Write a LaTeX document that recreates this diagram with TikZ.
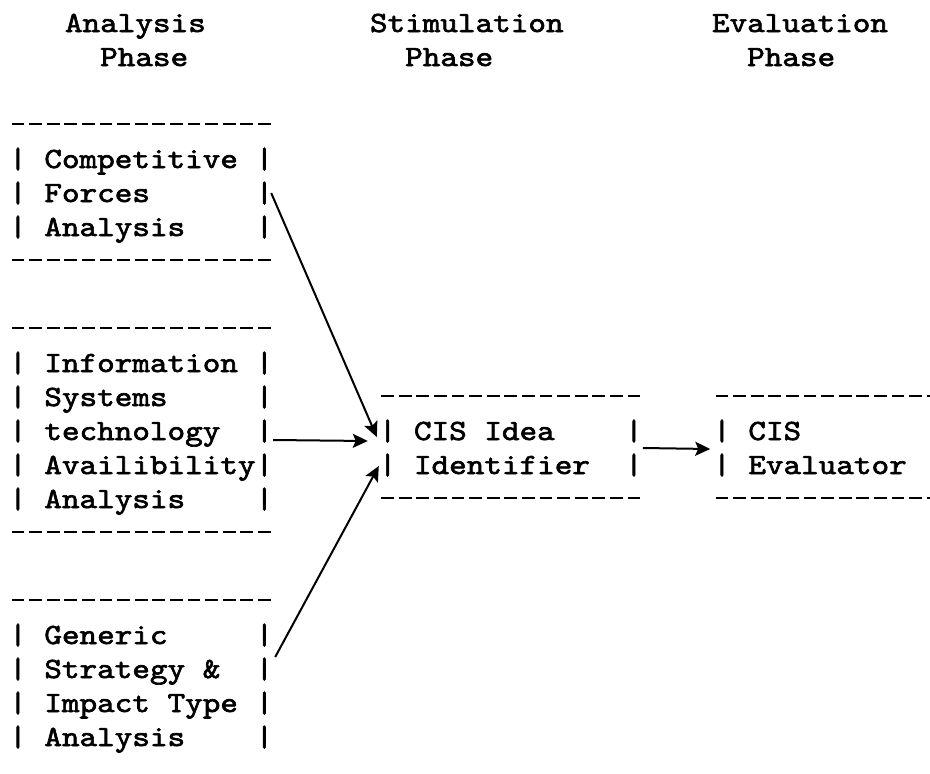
\documentclass[tikz,border=0pt]{standalone}
\usepackage{fontspec}
\newfontfamily\typer[FakeStretch=1.143,FakeBold=2.2]{lmmono10-regular.otf}
\usetikzlibrary{arrows.meta}
\newlength\cwd
\setlength\cwd{17.6pt}
% a boxed row: pipe, 13 character cells, pipe
\newcommand\brow[1]{|\makebox[13\cwd][l]{\hspace*{\cwd}#1}|}
% an open row (right side cut off)
\newcommand\orow[1]{|\hspace*{\cwd}#1}
\begin{document}
\begin{tikzpicture}[x=1pt,y=-1pt,
  txt/.style={font=\typer\fontsize{29.33pt}{34pt}\selectfont,
    inner sep=0pt, outer sep=0pt, anchor=base west, text height=20pt, text depth=6pt},
  border/.style={line width=2.4pt, dash pattern=on 12.8pt off 4.8pt},
  link/.style={line width=2pt, -{Stealth[length=15pt,width=14pt,inset=3pt]}}]
\useasboundingbox[fill=white] (0,0) rectangle (930,774);
% column c: left edge 9.2+17.6c ; row k: centre 22+34k, baseline +10
\newcommand\dashline[3]{\draw[border] ({9.2+17.6*#1+2.4},{22+34*#3}) -- ({9.2+17.6*(#2+1)-2.4},{22+34*#3});}
% headers
\node[txt] (h1a) at (65.0,32) {Analysis};
\node[txt] (h1b) at (100.2,66) {Phase};
\node[txt] (h2a) at (370.0,32) {Stimulation};
\node[txt] (h2b) at (405.2,66) {Phase};
\node[txt] (h3a) at (712.0,32) {Evaluation};
\node[txt] (h3b) at (747.2,66) {Phase};
% box 1 (rows 3-7)
\dashline{0}{14}{3}
\node[txt] (b1a) at (9.2,{22+34*4+10}) {\brow{Competitive}};
\node[txt] (b1b) at (9.2,{22+34*5+10}) {\brow{Forces}};
\node[txt] (b1c) at (9.2,{22+34*6+10}) {\brow{Analysis}};
\dashline{0}{14}{7}
% box 2 (rows 9-15)
\dashline{0}{14}{9}
\node[txt] (b2a) at (9.2,{22+34*10+10}) {\brow{Information}};
\node[txt] (b2b) at (9.2,{22+34*11+10}) {\brow{Systems}};
\node[txt] (b2c) at (9.2,{22+34*12+10}) {\brow{technology}};
\node[txt] (b2d) at (9.2,{22+34*13+10}) {\brow{Availibility}};
\node[txt] (b2e) at (9.2,{22+34*14+10}) {\brow{Analysis}};
\dashline{0}{14}{15}
% box 3 (rows 17-21)
\dashline{0}{14}{17}
\node[txt] (b3a) at (9.2,{22+34*18+10}) {\brow{Generic}};
\node[txt] (b3b) at (9.2,{22+34*19+10}) {\brow{Strategy \&}};
\node[txt] (b3c) at (9.2,{22+34*20+10}) {\brow{Impact Type}};
\node[txt] (b3d) at (9.2,{22+34*21+10}) {\brow{Analysis}};
% CIS idea identifier (cols 21-35, rows 11-14)
\dashline{21}{35}{11}
\node[txt] (c1) at (378.8,{22+34*12+10}) {\brow{CIS Idea}};
\node[txt] (c2) at (378.8,{22+34*13+10}) {\brow{Identifier}};
\dashline{21}{35}{14}
% CIS evaluator (cols 40-, rows 11-14), cut off at the right edge
\draw[border] (715.6,396) -- (930,396);
\node[txt] (e1) at (713.2,{22+34*12+10}) {\orow{CIS}};
\node[txt] (e2) at (713.2,{22+34*13+10}) {\orow{Evaluator}};
\draw[border] (715.6,498) -- (930,498);
% connectors
\draw[link] ([xshift=-2pt,yshift=2pt]b1b.east) -- ([xshift=-2pt,yshift=-4pt]c1.west);
\draw[link] ([yshift=-7pt]b2c.east) -- ([xshift=-11pt,yshift=-8pt]c1.west);
\draw[link] ([xshift=2pt,yshift=14pt]b3b.east) -- ([yshift=1pt]c2.west);
\draw[link] ([yshift=-15pt]c1.east) -- ([xshift=-3pt,yshift=-16pt]e1.west);
\end{tikzpicture}
\end{document}
